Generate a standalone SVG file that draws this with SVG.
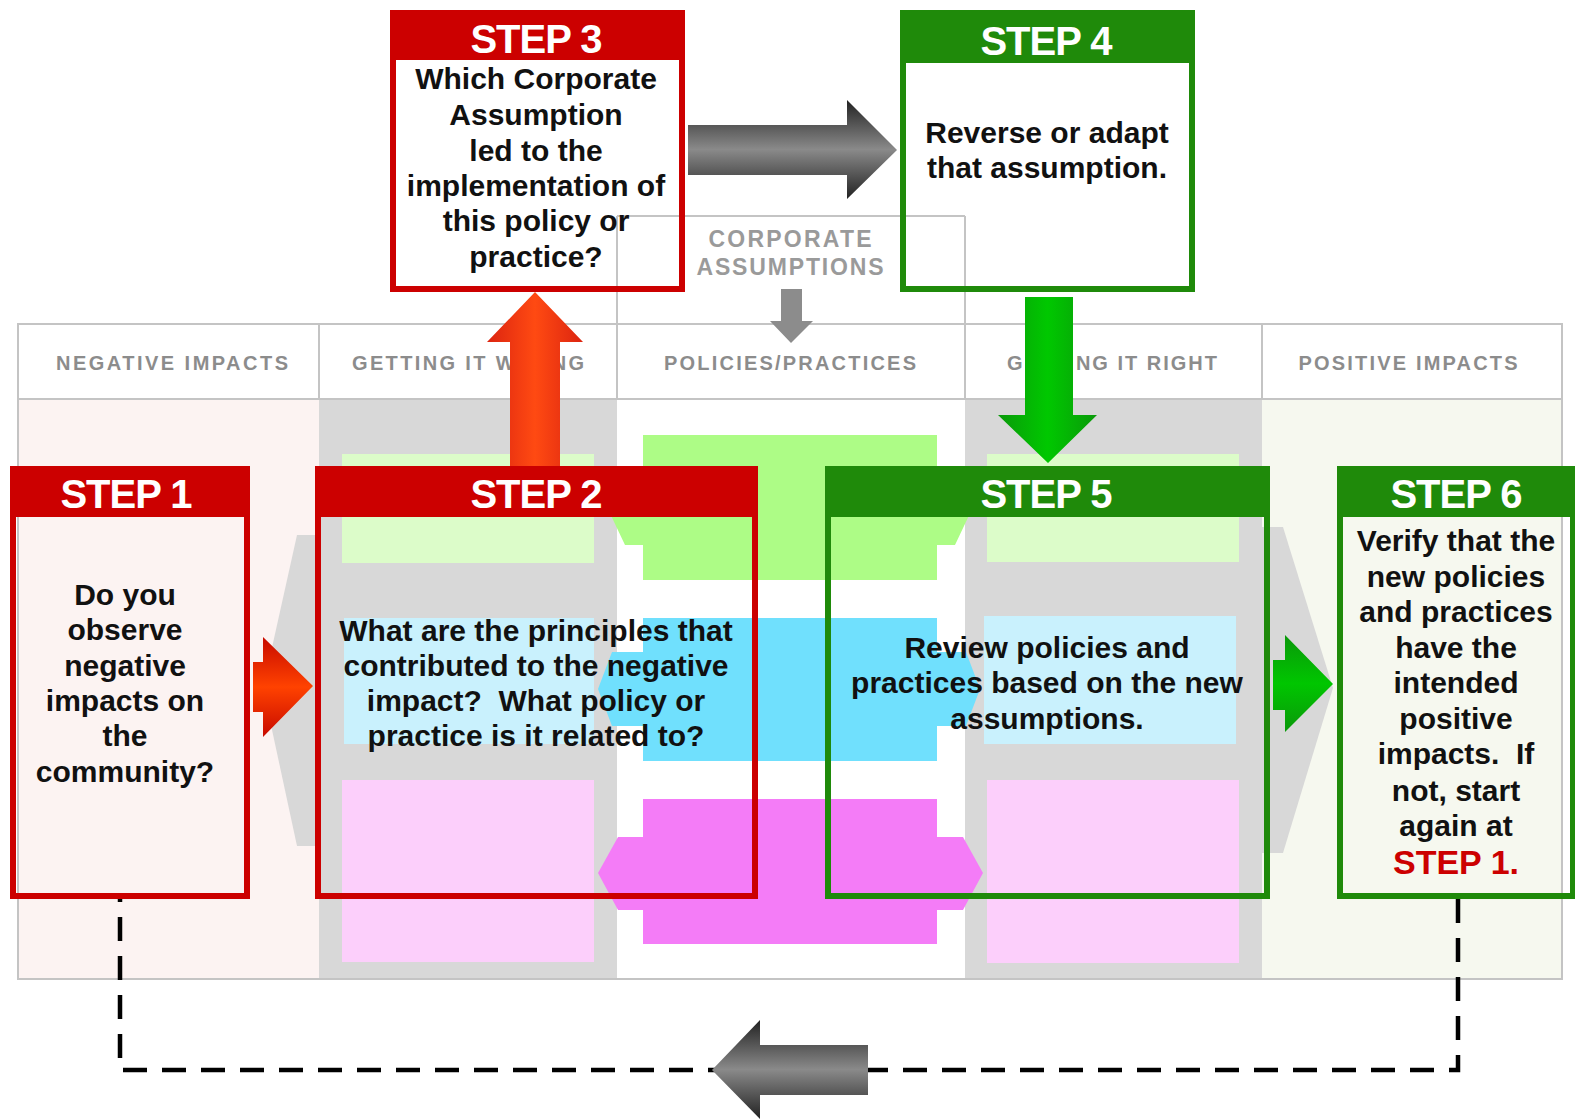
<svg xmlns="http://www.w3.org/2000/svg" width="1575" height="1120" viewBox="0 0 1575 1120">
  <defs>
    <style>
      .col-label { font-family: "Liberation Sans", Arial, sans-serif; font-weight: bold; font-size: 20px; fill: #8c8c8c; text-anchor: middle; }
      .corp-label { font-family: "Liberation Sans", Arial, sans-serif; font-weight: bold; font-size: 23px; fill: #9a9a9a; text-anchor: middle; }
      .step-title { font-family: "Liberation Sans", Arial, sans-serif; font-weight: bold; font-size: 40px; fill: #ffffff; text-anchor: middle; letter-spacing: -1px; }
      .step-text { font-family: "Liberation Sans", Arial, sans-serif; font-weight: bold; font-size: 30px; fill: #111111; text-anchor: middle; }
      .red-frame { fill: none; stroke: #cc0000; stroke-width: 6; }
      .red-head { fill: #cc0000; }
      .green-frame { fill: none; stroke: #1f8a0a; stroke-width: 6; }
      .green-head { fill: #1f8a0a; }
      .grid { fill: none; stroke: #c4c4c4; stroke-width: 2; }
      .loop { fill: none; stroke: #000000; stroke-width: 4.5; stroke-dasharray: 24 15; }
    </style>
    <linearGradient id="redH" x1="0" y1="0" x2="0" y2="1">
      <stop offset="0" stop-color="#c80a00"/>
      <stop offset="0.5" stop-color="#ff4200"/>
      <stop offset="1" stop-color="#c80a00"/>
    </linearGradient>
    <linearGradient id="redV" x1="0" y1="0" x2="1" y2="0">
      <stop offset="0" stop-color="#dc2410"/>
      <stop offset="0.5" stop-color="#ff4a12"/>
      <stop offset="1" stop-color="#dc2410"/>
    </linearGradient>
    <linearGradient id="grayH" x1="0" y1="0" x2="0" y2="1">
      <stop offset="0" stop-color="#222222"/>
      <stop offset="0.5" stop-color="#8a8a8a"/>
      <stop offset="1" stop-color="#222222"/>
    </linearGradient>
    <linearGradient id="greenV" x1="0" y1="0" x2="1" y2="0">
      <stop offset="0" stop-color="#0a9a0a"/>
      <stop offset="0.5" stop-color="#00c800"/>
      <stop offset="1" stop-color="#0a9a0a"/>
    </linearGradient>
    <linearGradient id="greenH" x1="0" y1="0" x2="0" y2="1">
      <stop offset="0" stop-color="#0a980a"/>
      <stop offset="0.5" stop-color="#00c600"/>
      <stop offset="1" stop-color="#0a980a"/>
    </linearGradient>
  </defs>

  <rect x="0" y="0" width="1575" height="1120" fill="#ffffff"/>

  <!-- impact table: column backgrounds -->
  <g id="table">
    <rect x="18" y="399" width="301" height="580" fill="#fcf3f2"/>
    <rect x="319" y="399" width="298" height="580" fill="#d8d8d8"/>
    <rect x="617" y="399" width="348" height="580" fill="#ffffff"/>
    <rect x="965" y="399" width="297" height="580" fill="#d8d8d8"/>
    <rect x="1262" y="399" width="300" height="580" fill="#f6f8ef"/>

    <!-- pale bands in the outer grey columns -->
    <rect x="342" y="454" width="252" height="109" fill="#dcfcc9"/>
    <rect x="344" y="618" width="250" height="126" fill="#c9f1fd"/>
    <rect x="342" y="780" width="252" height="182" fill="#fccffb"/>
    <rect x="987" y="454" width="252" height="108" fill="#dcfcc9"/>
    <rect x="984" y="616" width="252" height="128" fill="#c9f1fd"/>
    <rect x="987" y="780" width="252" height="183" fill="#fccffb"/>

    <!-- policy/practice bands in the centre column -->
    <path d="M643 435 H937 V470 H955 L973 507 L955 545 H937 V580 H643 V545 H625 L607 507 L625 470 H643 Z" fill="#adfc86"/>
    <path d="M643 618 H937 V652 H966 L980 689 L966 726 H937 V761 H643 V726 H612 L598 689 L612 652 H643 Z" fill="#70e0fd"/>
    <path d="M643 799 H937 V837 H963 L983 873 L963 910 H937 V944 H643 V910 H618 L598 873 L618 837 H643 Z" fill="#f47cf7"/>

    <!-- grey chevrons between columns -->
    <polygon points="319,535 297,535 263,688 297,846 319,846" fill="#d8d8d8"/>
    <polygon points="1262,527 1283,527 1333,688 1283,853 1262,853" fill="#d8d8d8"/>

    <!-- header row and outline -->
    <rect x="18" y="324" width="1544" height="75" fill="#ffffff"/>
    <rect class="grid" x="18" y="324" width="1544" height="655"/>
    <line class="grid" x1="18" y1="399" x2="1562" y2="399"/>
    <line class="grid" x1="319" y1="324" x2="319" y2="399"/>
    <line class="grid" x1="617" y1="216" x2="617" y2="399"/>
    <line class="grid" x1="965" y1="216" x2="965" y2="399"/>
    <line class="grid" x1="1262" y1="324" x2="1262" y2="399"/>
    <line class="grid" x1="617" y1="216" x2="965" y2="216"/>

    <text class="corp-label" x="790" y="247" textLength="163">CORPORATE</text>
    <text class="corp-label" x="790" y="275" textLength="187">ASSUMPTIONS</text>

    <text class="col-label" x="172" y="370" textLength="232">NEGATIVE IMPACTS</text>
    <text class="col-label" x="468" y="370" textLength="232">GETTING IT WRONG</text>
    <text class="col-label" x="790" y="370" textLength="252">POLICIES/PRACTICES</text>
    <text class="col-label" x="1112" y="370" textLength="210">GETTING IT RIGHT</text>
    <text class="col-label" x="1408" y="370" textLength="219">POSITIVE IMPACTS</text>
  </g>

  <!-- connectors -->
  <g id="connectors">
    <polygon points="781,289 802,289 802,321 813,321 791,343 770,321 781,321" fill="#8c8c8c"/>
    <polygon points="253,662 263,662 263,637 313,686 263,737 263,712 253,712" fill="url(#redH)"/>
    <polygon points="510,467 510,342 487,342 535,292 583,342 560,342 560,467" fill="url(#redV)"/>
    <polygon points="688,125 847,125 847,100 897,150 847,199 847,175 688,175" fill="url(#grayH)"/>
    <polygon points="1025,297 1073,297 1073,415 1097,415 1048,463 998,415 1025,415" fill="url(#greenV)"/>
    <polygon points="1273,660 1285,660 1285,635 1333,684 1285,732 1285,710 1273,710" fill="url(#greenH)"/>
    <path class="loop" d="M1458 899 V1070 H120 V899"/>
    <polygon points="868,1045 760,1045 760,1020 712,1070 760,1119 760,1095 868,1095" fill="url(#grayH)"/>
  </g>

  <!-- STEP 1 -->
  <g id="step1">
    <rect class="red-head" x="10" y="466" width="240" height="51"/>
    <rect class="red-frame" x="13" y="469" width="234" height="427"/>
    <text class="step-title" x="126" y="508">STEP 1</text>
    <text class="step-text" x="125" y="605">Do you</text>
    <text class="step-text" x="125" y="640">observe</text>
    <text class="step-text" x="125" y="676">negative</text>
    <text class="step-text" x="125" y="711">impacts on</text>
    <text class="step-text" x="125" y="746">the</text>
    <text class="step-text" x="125" y="782">community?</text>
  </g>

  <!-- STEP 2 -->
  <g id="step2">
    <rect class="red-head" x="315" y="466" width="443" height="51"/>
    <rect class="red-frame" x="318" y="469" width="437" height="427"/>
    <text class="step-title" x="536" y="508">STEP 2</text>
    <text class="step-text" x="536" y="641">What are the principles that</text>
    <text class="step-text" x="536" y="676">contributed to the negative</text>
    <text class="step-text" x="536" y="711" xml:space="preserve">impact?  What policy or</text>
    <text class="step-text" x="536" y="746">practice is it related to?</text>
  </g>

  <!-- STEP 3 -->
  <g id="step3">
    <rect class="red-head" x="390" y="10" width="295" height="50"/>
    <rect class="red-frame" x="393" y="13" width="289" height="276"/>
    <text class="step-title" x="536" y="53">STEP 3</text>
    <text class="step-text" x="536" y="89">Which Corporate</text>
    <text class="step-text" x="536" y="125">Assumption</text>
    <text class="step-text" x="536" y="161">led to the</text>
    <text class="step-text" x="536" y="196">implementation of</text>
    <text class="step-text" x="536" y="231">this policy or</text>
    <text class="step-text" x="536" y="267">practice?</text>
  </g>

  <!-- STEP 4 -->
  <g id="step4">
    <rect class="green-head" x="900" y="10" width="295" height="53"/>
    <rect class="green-frame" x="903" y="13" width="289" height="276"/>
    <text class="step-title" x="1046" y="55">STEP 4</text>
    <text class="step-text" x="1047" y="143">Reverse or adapt</text>
    <text class="step-text" x="1047" y="178">that assumption.</text>
  </g>

  <!-- STEP 5 -->
  <g id="step5">
    <rect class="green-head" x="825" y="466" width="445" height="51"/>
    <rect class="green-frame" x="828" y="469" width="439" height="427"/>
    <text class="step-title" x="1046" y="508">STEP 5</text>
    <text class="step-text" x="1047" y="658">Review policies and</text>
    <text class="step-text" x="1047" y="693">practices based on the new</text>
    <text class="step-text" x="1047" y="729">assumptions.</text>
  </g>

  <!-- STEP 6 -->
  <g id="step6">
    <rect class="green-head" x="1337" y="466" width="245" height="51"/>
    <rect class="green-frame" x="1340" y="469" width="233" height="427"/>
    <text class="step-title" x="1456" y="508">STEP 6</text>
    <text class="step-text" x="1456" y="551">Verify that the</text>
    <text class="step-text" x="1456" y="587">new policies</text>
    <text class="step-text" x="1456" y="622">and practices</text>
    <text class="step-text" x="1456" y="658">have the</text>
    <text class="step-text" x="1456" y="693">intended</text>
    <text class="step-text" x="1456" y="729">positive</text>
    <text class="step-text" x="1456" y="764" xml:space="preserve">impacts.  If</text>
    <text class="step-text" x="1456" y="801">not, start</text>
    <text class="step-text" x="1456" y="836">again at</text>
    <text class="step-text" x="1456" y="874" style="fill:#cc0000;font-size:34px">STEP 1.</text>
  </g>
</svg>
